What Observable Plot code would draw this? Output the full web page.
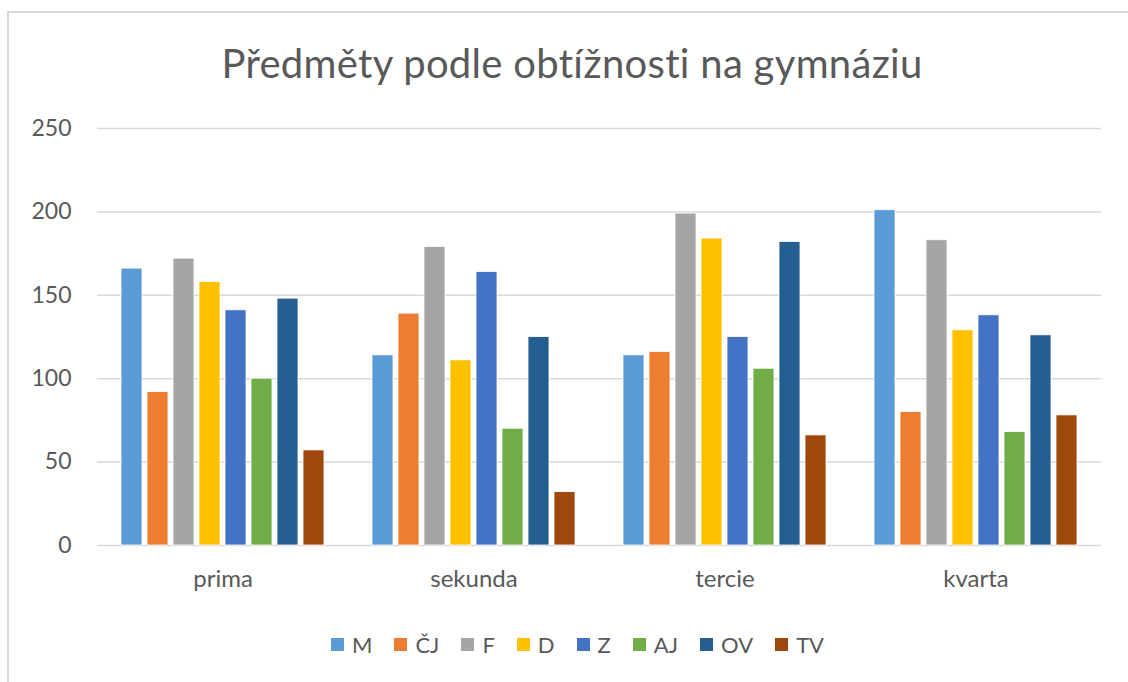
<!DOCTYPE html>
<html>
<head>
<meta charset="utf-8">
<script src="https://cdn.jsdelivr.net/npm/d3@7"></script>
<script src="https://cdn.jsdelivr.net/npm/@observablehq/plot@0.6"></script>
<style>
  html, body { margin: 0; padding: 0; background: #fff; }
  body { width: 1128px; height: 682px; overflow: hidden; position: relative; font-family: Lato, "Open Sans", sans-serif; }
  #frame { position: absolute; left: 7px; top: 11px; width: 1200px; height: 800px; border-left: 2px solid #d9d9d9; border-top: 2px solid #d9d9d9; }
  #title { position: absolute; left: 0; top: 39px; width: 1144px; text-align: center; font-size: 40px; color: #595959; letter-spacing: 0.3px; }
  #chart { position: absolute; left: 0; top: 0; }
  #legend { position: absolute; left: 0; top: 631px; width: 1155px; display: flex; justify-content: center; font-size: 22px; color: #595959; }
  .item { display: flex; align-items: center; margin: 0 11px; }
  .sw { width: 13px; height: 13px; margin-right: 8px; }
</style>
</head>
<body>
<div id="frame"></div>
<div id="title">Předměty podle obtížnosti na gymnáziu</div>
<div id="chart"></div>
<div id="legend"></div>
<script>
const classes = ["prima", "sekunda", "tercie", "kvarta"];
const subjects = ["M", "ČJ", "F", "D", "Z", "AJ", "OV", "TV"];
const colors = ["#5b9bd5", "#ed7d31", "#a5a5a5", "#ffc000", "#4472c4", "#70ad47", "#255e91", "#9e480e"];
const valuesPrima   = [166, 92, 172, 158, 141, 100, 148, 57];
const valuesSekunda = [114, 139, 179, 111, 164, 70, 125, 32];
const valuesTercie  = [114, 116, 199, 184, 125, 106, 182, 66];
const valuesKvarta  = [201, 80, 183, 129, 138, 68, 126, 78];
const yTicks = [0, 50, 100, 150, 200, 250];

const series = [valuesPrima, valuesSekunda, valuesTercie, valuesKvarta];
const data = [];
classes.forEach((c, i) => subjects.forEach((s, j) => data.push({cls: c, subject: s, value: series[i][j]})));

const chart = Plot.plot({
  width: 1128,
  height: 600,
  marginTop: 128,
  marginBottom: 55,
  marginLeft: 97,
  marginRight: 27,
  style: {fontFamily: "Lato, 'Open Sans', sans-serif", fontSize: "22px", color: "#595959", background: "transparent"},
  fx: {domain: classes, padding: 0, label: null},
  x: {domain: subjects, axis: null, paddingInner: 0.2, paddingOuter: 0.855},
  y: {domain: [0, 250], label: null},
  color: {domain: subjects, range: colors},
  marks: [
    Plot.ruleY(yTicks, {stroke: "#d9d9d9", strokeWidth: 1.5}),
    Plot.axisY({ticks: yTicks, tickSize: 0, tickPadding: 26, fontSize: 23, fill: "#595959", label: null}),
    Plot.axisFx({anchor: "bottom", tickSize: 0, tickPadding: 24, fontSize: 24, fill: "#595959", label: null, style: "letter-spacing: 0.6px"}),
    Plot.barY(data, {fx: "cls", x: "subject", y: "value", fill: "subject", stroke: "white", strokeWidth: 0.8})
  ]
});
document.getElementById("chart").appendChild(chart);

const legend = document.getElementById("legend");
subjects.forEach((s, i) => {
  const it = document.createElement("div");
  it.className = "item";
  const sw = document.createElement("div");
  sw.className = "sw";
  sw.style.background = colors[i];
  const t = document.createElement("span");
  t.textContent = s;
  it.appendChild(sw);
  it.appendChild(t);
  legend.appendChild(it);
});
</script>
</body>
</html>
